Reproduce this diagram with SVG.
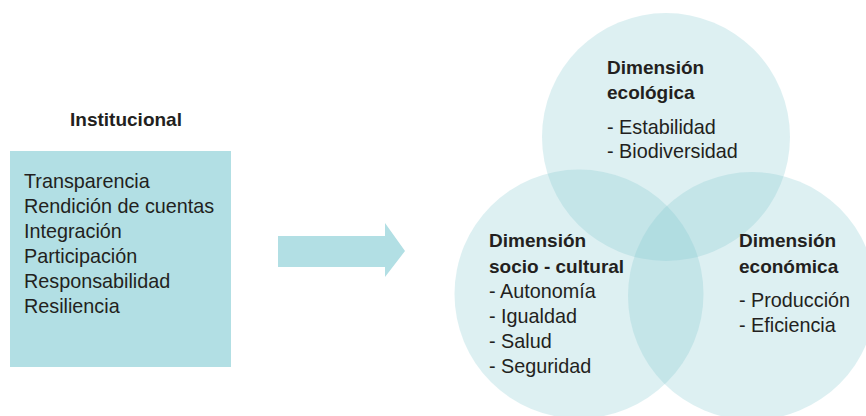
<svg xmlns="http://www.w3.org/2000/svg" width="866" height="416" viewBox="0 0 866 416">
<style>
text{font-family:"Liberation Sans",Arial,sans-serif;fill:#231f20}
.h{font-weight:bold;font-size:19px}
.t{font-size:19.8px}
.box{fill:#b2dfe4}
.c{fill:#7fc6ce;fill-opacity:0.265}
</style>
<rect width="866" height="416" fill="#ffffff"/>
<g id="institucional">
<text class="h" x="126" y="126" text-anchor="middle">Institucional</text>
<rect class="box" x="10" y="151" width="221" height="216"/>
<text class="t" x="24" y="188">Transparencia</text>
<text class="t" x="24" y="213">Rendición de cuentas</text>
<text class="t" x="24" y="238">Integración</text>
<text class="t" x="24" y="263">Participación</text>
<text class="t" x="24" y="288">Responsabilidad</text>
<text class="t" x="24" y="313">Resiliencia</text>
</g>
<g id="connectors">
<polygon class="box" points="278,236 385,236 385,223 405,251 385,277 385,267 278,267"/>
</g>
<g id="ecologica">
<circle class="c" cx="666" cy="137" r="124"/>
</g>
<g id="sociocultural">
<circle class="c" cx="579" cy="294" r="124.5"/>
</g>
<g id="economica">
<circle class="c" cx="752" cy="296" r="124"/>
</g>
<g id="labels">
<text class="h" x="607" y="74">Dimensión</text>
<text class="h" x="607" y="99">ecológica</text>
<text class="t" x="607" y="134">- Estabilidad</text>
<text class="t" x="607" y="158">- Biodiversidad</text>
<text class="h" x="489" y="247">Dimensión</text>
<text class="h" x="489" y="273">socio - cultural</text>
<text class="t" x="489" y="298">- Autonomía</text>
<text class="t" x="489" y="323">- Igualdad</text>
<text class="t" x="489" y="348">- Salud</text>
<text class="t" x="489" y="373">- Seguridad</text>
<text class="h" x="739" y="247">Dimensión</text>
<text class="h" x="739" y="273">económica</text>
<text class="t" x="739" y="307">- Producción</text>
<text class="t" x="739" y="332">- Eficiencia</text>
</g>
</svg>
